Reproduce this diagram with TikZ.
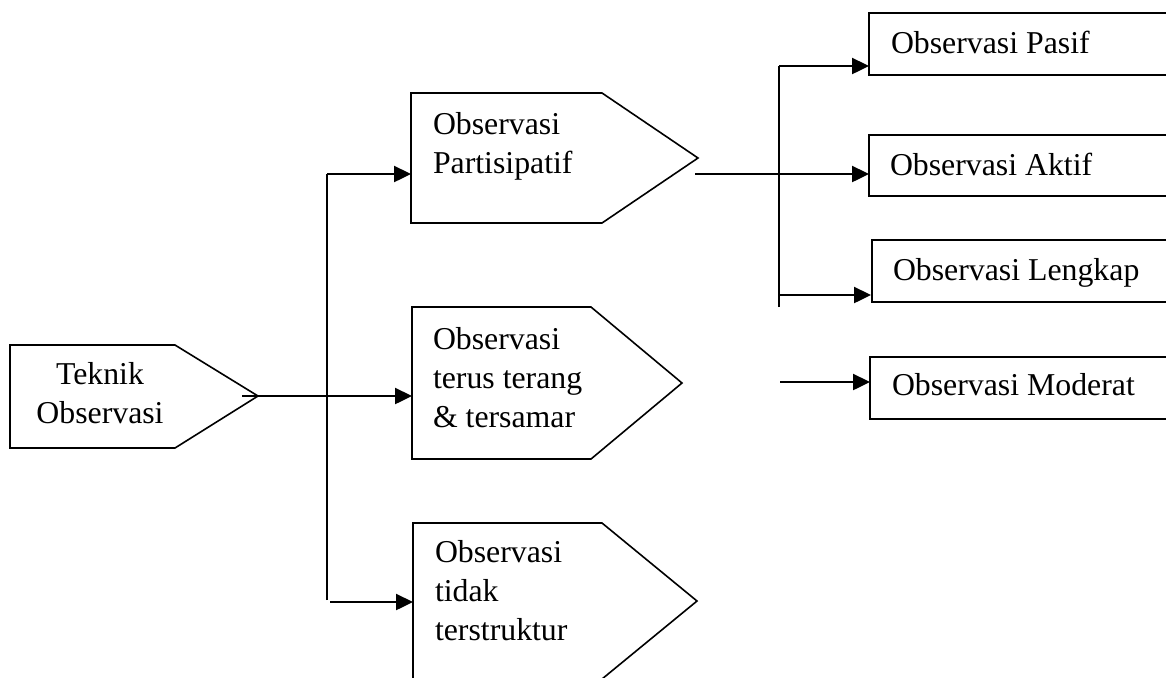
\documentclass[tikz,border=0pt]{standalone}
\usepackage{fontspec}
\setmainfont{Liberation Serif}
\usetikzlibrary{arrows.meta}
\tikzset{
  shapeline/.style={draw=black, line width=0.8pt},
  conn/.style={draw=black, line width=1.2pt},
  arr/.style={conn, -{Triangle[length=8.5pt,width=8pt]}},
  lbl/.style={inner sep=0pt, outer sep=0pt, anchor=base west, align=left,
    font=\fontsize{15.9pt}{19.5pt}\selectfont},
}
\begin{document}
\begin{tikzpicture}[x=0.5pt,y=-0.5pt]
\clip (0,0) rectangle (1166,677);
\fill[white] (0,0) rectangle (1166,677);

% ---------- pentagons ----------
% Teknik Observasi
\draw[shapeline] (10,345) -- (175,345) -- (258,396) -- (175,448) -- (10,448) -- cycle;
\coordinate (tek-out) at (242,396);
\node[lbl, anchor=base, align=center] (tek) at (100,423) {Teknik\\Observasi};

% Observasi Partisipatif
\draw[shapeline] (411,93) -- (602,93) -- (698,158) -- (602,223) -- (411,223) -- cycle;
\coordinate (par-in) at (411,176);
\coordinate (par-out) at (695,174);
\node[lbl] (par) at (433,173) {Observasi\\Partisipatif};

% Observasi terus terang & tersamar
\draw[shapeline] (412,307) -- (591,307) -- (682,383) -- (591,459) -- (412,459) -- cycle;
\coordinate (ter-in) at (412,396);
\node[lbl] (ter) at (433,427) {Observasi\\terus terang\\\& tersamar};

% Observasi tidak terstruktur
\draw[shapeline] (413,523) -- (602,523) -- (697,601) -- (602,679) -- (413,679) -- cycle;
\coordinate (tid-in) at (413,602);
\node[lbl] (tid) at (435,640) {Observasi\\tidak\\terstruktur};

% ---------- right boxes ----------
\draw[shapeline] (1185,13) -- (869,13) -- (869,75) -- (1185,75);
\node[lbl] (pas) at (891,53) {Observasi Pasif};
\coordinate (pas-in) at (869,66);

\draw[shapeline] (1185,135) -- (869,135) -- (869,196) -- (1185,196);
\node[lbl] (akt) at (890,175) {Observasi Aktif};
\coordinate (akt-in) at (869,174);

\draw[shapeline] (1185,240) -- (872,240) -- (872,302) -- (1185,302);
\node[lbl] (len) at (893,280) {Observasi Lengkap};
\coordinate (len-in) at (871,295);

\draw[shapeline] (1185,357) -- (870,357) -- (870,419) -- (1185,419);
\node[lbl] (mod) at (892,395) {Observasi Moderat};
\coordinate (mod-in) at (870,382);

% ---------- connectors, left ----------
\coordinate (trunkA) at (327,174);
\coordinate (trunkB) at (327,600);
\coordinate (botStart) at (330,602);
\draw[arr] (tek-out) -- (ter-in);
\draw[conn] (trunkB) -- (trunkA);
\draw[arr] (trunkA) -- (par-in |- trunkA);
\draw[arr] (botStart) -- (tid-in);

% ---------- connectors, right ----------
\coordinate (rtTop) at (779,66);
\coordinate (rtBot) at (779,307);
\coordinate (lenStart) at (779,295);
\coordinate (modStart) at (780,382);
\draw[arr] (par-out) -- (akt-in);
\draw[conn] (rtBot) -- (rtTop);
\draw[arr] (rtTop) -- (pas-in);
\draw[arr] (lenStart) -- (len-in);
\draw[arr] (modStart) -- (mod-in);
\end{tikzpicture}
\end{document}
